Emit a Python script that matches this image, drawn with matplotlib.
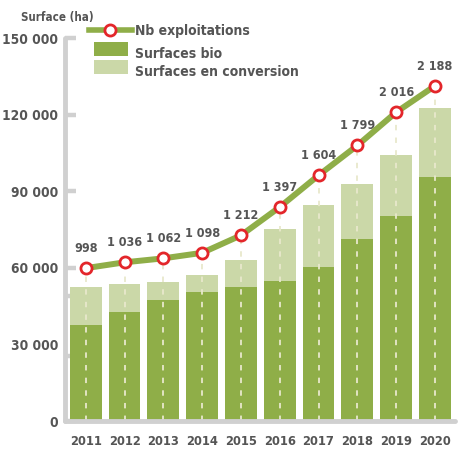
import matplotlib
matplotlib.use("Agg")
import matplotlib.pyplot as plt
from matplotlib.patches import Patch, Rectangle
from matplotlib.lines import Line2D
from matplotlib.legend_handler import HandlerPatch
from matplotlib import font_manager as fm
import numpy as np

years = ["2011", "2012", "2013", "2014", "2015", "2016", "2017", "2018", "2019", "2020"]
surf_bio = [37600, 42800, 47400, 50600, 52600, 54950, 60400, 71300, 80300, 95600]
surf_total = [52500, 53650, 54400, 57300, 63050, 75200, 84600, 92800, 104200, 122600]
surf_conv = [t - b for t, b in zip(surf_total, surf_bio)]
nb_exploit = [998, 1036, 1062, 1098, 1212, 1397, 1604, 1799, 2016, 2188]
nb_scale = 60  # line drawn on the surface axis
yticks = [0, 30000, 60000, 90000, 120000, 150000]
extra_knobs = [25500, 49000]

DARK = "#8FAE48"
LIGHT = "#CBD8A8"
RED = "#E3262A"
GRAY = "#D0D0D0"
TEXT = "#555555"


def fmt(v):
    return f"{v:,}".replace(",", " ")


def prop(size):
    return fm.FontProperties(family="DejaVu Sans", weight="bold",
                             stretch="condensed", size=size)


fig = plt.figure(figsize=(4.63, 4.5), dpi=100)
ax = fig.add_axes([0.140, 0.0644, 0.843, 0.851])

x = np.arange(len(years))
ax.bar(x, surf_bio, width=0.82, color=DARK, zorder=2)
ax.bar(x, surf_conv, width=0.82, bottom=surf_bio, color=LIGHT, zorder=2)

line_vals = [n * nb_scale for n in nb_exploit]
ax.vlines(x, 0, line_vals, colors="#E8E8CC", linewidth=1.3,
          linestyles=(0, (3, 4)), zorder=3)
ax.plot(x, line_vals, color=DARK, linewidth=4.3, solid_capstyle="butt", zorder=4)
ax.plot(x, line_vals, linestyle="none", marker="o", markersize=8,
        markerfacecolor="white", markeredgecolor=RED, markeredgewidth=2.0, zorder=5)
for xi, v, n in zip(x, line_vals, nb_exploit):
    ax.annotate(fmt(n), (xi, v), xytext=(0, 9.5), textcoords="offset points",
                ha="center", va="bottom", color=TEXT, fontproperties=prop(9))

ax.set_xlim(-0.54, 9.52)
ax.set_ylim(0, 150000)
ax.set_yticks(yticks)
ax.set_yticklabels([fmt(v) for v in yticks])
ax.set_yticks(extra_knobs, minor=True)
ax.set_xticks(x)
ax.set_xticklabels(years)
for lab in ax.get_yticklabels():
    lab.set_fontproperties(prop(9.8))
    lab.set_color(TEXT)
for lab in ax.get_xticklabels():
    lab.set_fontproperties(prop(9.3))
    lab.set_color(TEXT)
ax.tick_params(axis="x", length=0, pad=10)
ax.tick_params(axis="y", which="both", direction="in", length=8, width=3.2,
               color=GRAY, pad=5)
ax.yaxis.get_major_ticks()[1].tick1line.set_visible(False)

for s in ["top", "right"]:
    ax.spines[s].set_visible(False)
for s in ["left", "bottom"]:
    ax.spines[s].set_color(GRAY)
    ax.spines[s].set_linewidth(3.5)
    ax.spines[s].set_capstyle("round")
    ax.spines[s].set_zorder(6)

fig.text(0.045, 0.962, "Surface (ha)", ha="left", va="center",
         color=TEXT, fontproperties=prop(8.3))


def narrow_patch(legend, orig_handle, xdescent, ydescent, width, height, fontsize):
    return Rectangle((-xdescent + 0.12 * width, -ydescent + 0.3 * height),
                     0.78 * width, 1.15 * height)


leg1 = fig.legend([Line2D([], [], color=DARK, linewidth=4, marker="o", markersize=8,
                          markerfacecolor="white", markeredgecolor=RED,
                          markeredgewidth=2.0)],
                  ["Nb exploitations"], loc="upper left",
                  bbox_to_anchor=(0.165, 0.975), frameon=False,
                  handlelength=3.1, handletextpad=0.2, prop=prop(10))
for t in leg1.get_texts():
    t.set_color(TEXT)

leg2 = fig.legend([Patch(facecolor=DARK), Patch(facecolor=LIGHT)],
                  ["Surfaces bio", "Surfaces en conversion"], loc="upper left",
                  bbox_to_anchor=(0.165, 0.923), frameon=False,
                  handlelength=3.1, handleheight=1.0, handletextpad=0.2,
                  labelspacing=0.3, prop=prop(10),
                  handler_map={Patch: HandlerPatch(patch_func=narrow_patch)})
for t in leg2.get_texts():
    t.set_color(TEXT)

fig.savefig("out.png", dpi=100)
